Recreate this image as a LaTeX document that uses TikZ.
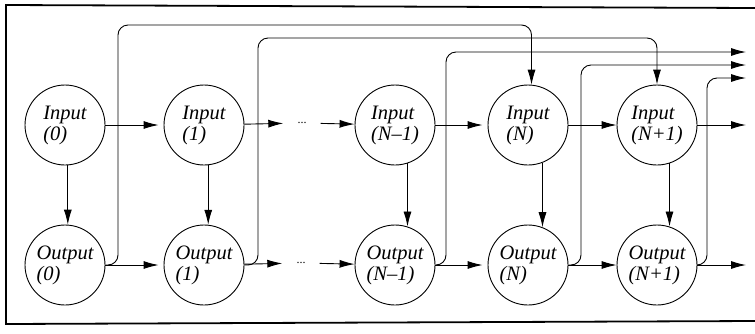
\documentclass[tikz,border=0pt]{standalone}
\usepackage{fontspec}
\setmainfont{Liberation Serif}
\usetikzlibrary{arrows.meta}
\begin{document}
\begin{tikzpicture}[x=1pt,y=-1pt,
  unit/.style={circle,draw,line width=0.9pt,minimum size=80pt,inner sep=0pt,
    align=left,font=\fontsize{20.5}{21}\selectfont\itshape},
  dots/.style={minimum width=37pt,inner sep=0pt,font=\fontsize{12}{12}\selectfont},
  arr/.style={line width=0.9pt,-{Latex[length=15pt,width=8pt]}},
  gap/.style={shorten >=5pt},
  fb/.style={arr,rounded corners=10pt},
  frame/.style={line width=1.8pt}]
\useasboundingbox (0,0) rectangle (755,333);
\draw[frame] (755,8) -- (6,5) -- (6,324) -- (755,321);
% nodes
\node[unit] (i0) at (65,125) {Input\\(0)};
\node[unit] (i1) at (204,125) {Input\\(1)};
\node[dots] (da) at (302,123) {...};
\node[unit] (iM) at (395,125) {Input\\(N–1)};
\node[unit] (iN) at (528,125) {Input\\(N)};
\node[unit] (iP) at (657,125) {Input\\(N+1)};
\node[unit] (o0) at (65,265) {Output\\(0)};
\node[unit] (o1) at (204,265) {Output\\(1)};
\node[dots] (db) at (301,263) {...};
\node[unit] (oM) at (395,265) {Output\\(N–1)};
\node[unit] (oN) at (528,265) {Output\\(N)};
\node[unit] (oP) at (657,265) {Output\\(N+1)};
\coordinate (eI) at (746,125);
\coordinate (eO) at (746,265);
\coordinate (e1) at (746,52);
\coordinate (e2) at (746,65);
\coordinate (e3) at (746,78);
% input row
\draw[arr,gap] (i0) -- (i1);
\draw[arr] (i1) -- (da);
\draw[arr] (da) -- (iM);
\draw[arr,gap] (iM) -- (iN);
\draw[arr] (iN) -- (iP);
\draw[arr] (iP) -- (eI);
% output row
\draw[arr,gap] (o0) -- (o1);
\draw[arr] (o1) -- (db);
\draw[arr] (db) -- (oM);
\draw[arr,gap] (oM) -- (oN);
\draw[arr] (oN) -- (oP);
\draw[arr] (oP) -- (eO);
% input to output
\draw[arr] (i0.-86) -- (o0.86);
\draw[arr] (i1.-84) -- (o1.84);
\draw[arr] (iM.-72) -- (oM.72);
\draw[arr] (iN.-69) -- (oN.69);
\draw[arr] (iP.-72) -- (oP.72);
% feedback
\draw[fb] (o0.east) -| (118,25) -| (iN.85);
\draw[fb] (o1.east) -| (258,38) -| (iP.north);
\draw[fb] (oM.east) -| (446,52) -- (e1);
\draw[fb] (oN.east) -| (581,65) -- (e2);
\draw[fb] (oP.east) -| (707,78) -- (e3);
\end{tikzpicture}
\end{document}
